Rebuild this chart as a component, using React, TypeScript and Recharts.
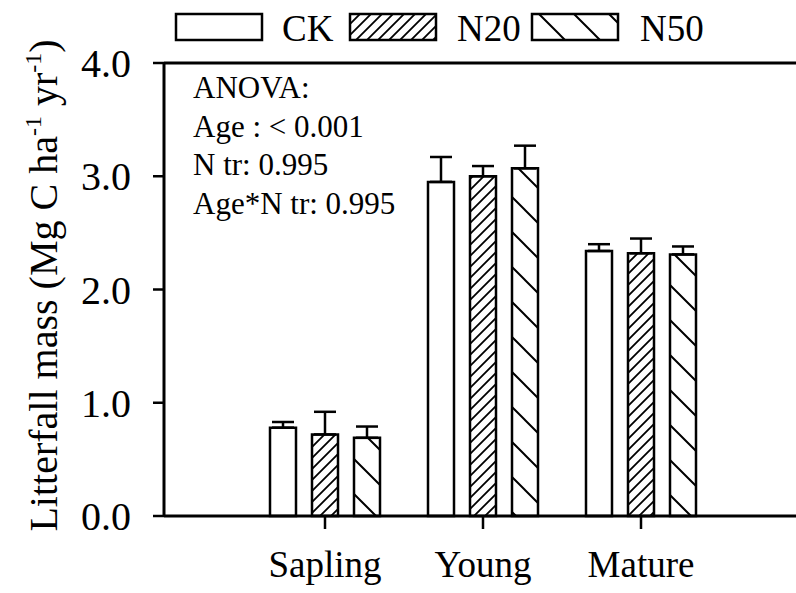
import React from 'react'
import { BarChart, Bar, XAxis, YAxis, ErrorBar, ReferenceLine, Legend } from 'recharts'

const categories = ['Sapling', 'Young', 'Mature']
const ckValues = [0.78, 2.95, 2.34]
const ckErrors = [0.05, 0.22, 0.06]
const n20Values = [0.72, 3.0, 2.32]
const n20Errors = [0.2, 0.09, 0.13]
const n50Values = [0.69, 3.07, 2.31]
const n50Errors = [0.1, 0.2, 0.07]
const yTicks = [0, 1, 2, 3, 4]
const anovaLines = ['ANOVA:', 'Age : < 0.001', 'N tr: 0.995', 'Age*N tr: 0.995']

const data = categories.map((name, i) => ({
  name,
  ck: ckValues[i],
  ckErr: [0, ckErrors[i]],
  n20: n20Values[i],
  n20Err: [0, n20Errors[i]],
  n50: n50Values[i],
  n50Err: [0, n50Errors[i]],
}))

const FONT = "'Liberation Serif', 'Times New Roman', serif"

const Patterns = () => (
  <svg width={0} height={0} style={{ position: 'absolute' }}>
    <defs>
      <pattern id="hatchN20" patternUnits="userSpaceOnUse" width={11} height={11}>
        <path d="M0,11 L11,0 M-3,3 L3,-3 M8,14 L14,8" stroke="#000" strokeWidth={1.8} />
      </pattern>
      <pattern id="hatchN50" patternUnits="userSpaceOnUse" width={35} height={35}>
        <path d="M0,0 L35,35 M-5,30 L5,40 M30,-5 L40,5" stroke="#000" strokeWidth={2} />
      </pattern>
    </defs>
  </svg>
)

const LegendContent = () => {
  const items = [
    { label: 'CK', fill: '#fff', box: 176, text: 282 },
    { label: 'N20', fill: 'url(#hatchN20)', box: 350, text: 457 },
    { label: 'N50', fill: 'url(#hatchN50)', box: 532, text: 640 },
  ]
  return (
    <svg width={796} height={63} style={{ display: 'block' }}>
      {items.map(it => (
        <g key={it.label}>
          <rect x={it.box} y={14} width={86} height={26} fill={it.fill} stroke="#000" strokeWidth={2.5} />
          <text x={it.text} y={41} fontFamily={FONT} fontSize={37} fill="#000">
            {it.label}
          </text>
        </g>
      ))}
    </svg>
  )
}

const YLabel = (props: any) => {
  const vb = props.viewBox || { y: 63, height: 453 }
  const cy = vb.y + vb.height / 2 - 4
  return (
    <text
      transform={`translate(57, ${cy}) rotate(-90)`}
      textAnchor="middle"
      fontFamily={FONT}
      fontSize={40}
      fill="#000"
    >
      <tspan>Litterfall mass (Mg C ha</tspan>
      <tspan dy={-16} fontSize={24}>-1</tspan>
      <tspan dy={16}> yr</tspan>
      <tspan dy={-16} fontSize={24}>-1</tspan>
      <tspan dy={16}>)</tspan>
    </text>
  )
}

export default function App() {
  return (
    <div style={{ position: 'absolute', left: 0, top: 0, background: '#fff' }}>
      <Patterns />
      <BarChart
        width={796}
        height={593}
        data={data}
        margin={{ top: 0, right: 0, bottom: 0, left: 0 }}
        barSize={26}
        barGap={16}
      >
        <Legend
          verticalAlign="top"
          content={<LegendContent />}
          wrapperStyle={{ top: 0, left: 0, width: 796, height: 63 }}
        />
        <XAxis
          dataKey="name"
          height={77}
          padding={{ left: 82, right: 76 }}
          axisLine={{ stroke: '#000', strokeWidth: 3 }}
          tickLine={{ stroke: '#000', strokeWidth: 2.5 }}
          tickSize={13}
          tickMargin={22}
          tick={{ fontSize: 37, fill: '#000', fontFamily: FONT }}
        />
        <YAxis
          width={164}
          domain={[0, 4]}
          ticks={yTicks}
          interval={0}
          tickFormatter={(v: number) => v.toFixed(1)}
          axisLine={{ stroke: '#000', strokeWidth: 3 }}
          tickLine={{ stroke: '#000', strokeWidth: 2.5 }}
          tickSize={11}
          tickMargin={22}
          tick={{ fontSize: 40, fill: '#000', fontFamily: FONT }}
          label={{ content: <YLabel /> }}
        />
        <ReferenceLine y={4} stroke="#000" strokeWidth={3} />
        <Bar dataKey="ck" name="CK" fill="#fff" stroke="#000" strokeWidth={2.5} isAnimationActive={false}>
          <ErrorBar dataKey="ckErr" width={11} stroke="#000" strokeWidth={2.5} />
        </Bar>
        <Bar dataKey="n20" name="N20" fill="url(#hatchN20)" stroke="#000" strokeWidth={2.5} isAnimationActive={false}>
          <ErrorBar dataKey="n20Err" width={11} stroke="#000" strokeWidth={2.5} />
        </Bar>
        <Bar dataKey="n50" name="N50" fill="url(#hatchN50)" stroke="#000" strokeWidth={2.5} isAnimationActive={false}>
          <ErrorBar dataKey="n50Err" width={11} stroke="#000" strokeWidth={2.5} />
        </Bar>
      </BarChart>
      <svg width={320} height={180} style={{ position: 'absolute', left: 190, top: 66 }}>
        {anovaLines.map((line, i) => (
          <text key={line} x={3} y={32 + i * 38.5} fontFamily={FONT} fontSize={31} fill="#000">
            {line}
          </text>
        ))}
      </svg>
    </div>
  )
}
